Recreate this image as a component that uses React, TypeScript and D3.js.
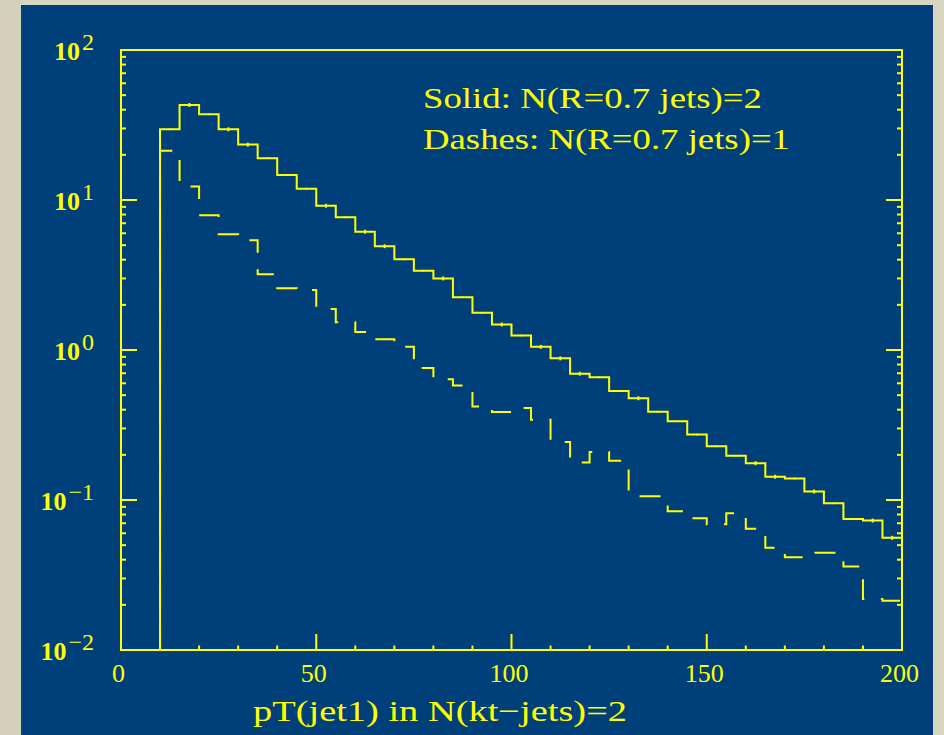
import React from 'react';
import * as d3 from 'd3';

// ---- data ----
const binStarts = [10, 15, 20, 25, 30, 35, 40, 45, 50, 55, 60, 65, 70, 75, 80, 85, 90, 95, 100, 105,
  110, 115, 120, 125, 130, 135, 140, 145, 150, 155, 160, 165, 170, 175, 180, 185, 190, 195];
const binWidth = 5;

// Solid: N(R=0.7 jets)=2
const solidValues = [29.6, 43, 37.3, 29.6, 23.4, 19.0, 14.7, 11.9, 9.16, 7.66,
  6.15, 4.92, 4.02, 3.38, 3.0, 2.25, 1.77, 1.48, 1.25, 1.05,
  0.88, 0.695, 0.658, 0.533, 0.477, 0.388, 0.335, 0.273, 0.228, 0.197,
  0.176, 0.143, 0.139, 0.114, 0.095, 0.0747, 0.073, 0.056];

// relative statistical errors of the solid histogram (tiny bars)
const solidErrors = [0.012, 0.03, 0.012, 0.03, 0.03, 0.012, 0.012, 0.012, 0.03, 0.012,
  0.03, 0.03, 0.012, 0.012, 0.03, 0.012, 0.012, 0.03, 0.012, 0.03,
  0.03, 0.03, 0.012, 0.012, 0.03, 0.012, 0.012, 0.012, 0.012, 0.012,
  0.03, 0.03, 0.012, 0.03, 0.012, 0.012, 0.03, 0.03];

// Dashes: N(R=0.7 jets)=1
const dashedValues = [21.3, 12.3, 7.9, 5.9, 5.4, 3.2, 2.58, 2.51, 1.88, 1.53,
  1.32, 1.18, 1.05, 0.76, 0.638, 0.58, 0.42, 0.386, 0.41, 0.343,
  0.244, 0.178, 0.209, 0.183, 0.106, 0.106, 0.084, 0.0755, 0.0689, 0.0815,
  0.0644, 0.048, 0.0415, 0.0445, 0.0445, 0.036, 0.0219, 0.0213];

const yDomain = [0.01, 100];
const yTickExps = ['2', '1', '0', '−1', '−2'];
const yTickValues = [100, 10, 1, 0.1, 0.01];
const xDomain = [0, 200];
const xMajorTicks = [0, 50, 100, 150, 200];
const xMinorTicks = [10, 20, 30, 40, 60, 70, 80, 90, 110, 120, 130, 140, 160, 170, 180, 190];
const legendLines = ['Solid: N(R=0.7 jets)=2', 'Dashes: N(R=0.7 jets)=1'];
const xTitle = 'pT(jet1) in N(kt−jets)=2';

const W = 944;
const H = 735;
const BLUE = '#00407a';
const YEL = '#ffff00';
const BEIGE = '#d8d5c1';
const FONT = "'Liberation Serif', 'Times New Roman', serif";

export default function App() {
  const left = 121, right = 902, top = 50, bottom = 650;
  const x = d3.scaleLinear().domain(xDomain).range([left, right]);
  const y = d3.scaleLog().domain(yDomain).range([bottom, top]);

  const makePts = (vals: number[]) => {
    const pts: [number, number][] = [[binStarts[0], yDomain[0]]];
    binStarts.forEach((b, i) => pts.push([b, vals[i]]));
    pts.push([binStarts[binStarts.length - 1] + binWidth, vals[vals.length - 1]]);
    return pts;
  };
  const line = d3.line<[number, number]>()
    .x(d => x(d[0]))
    .y(d => y(d[1]))
    .curve(d3.curveStepAfter);

  const solidPath = line(makePts(solidValues)) || '';
  const dashedPath = line(makePts(dashedValues)) || '';

  const allYTicks = y.ticks();
  const isMajor = (v: number) => Math.abs(Math.log10(v) - Math.round(Math.log10(v))) < 1e-6;
  const minorY = allYTicks.filter(v => !isMajor(v));

  return (
    <svg width={W} height={H} style={{ position: 'absolute', left: 0, top: 0 }}
      xmlns="http://www.w3.org/2000/svg">
      <rect x={0} y={0} width={W} height={H} fill={BEIGE} />
      <rect x={0} y={0} width={21} height={H} fill="#d3d0bb" />
      <rect x={21} y={5} width={912} height={H - 5} fill={BLUE} />

      {/* frame */}
      <rect x={left} y={top} width={right - left} height={bottom - top}
        fill="none" stroke={YEL} strokeWidth={2} />

      {/* y ticks, left and right */}
      {yTickValues.map(v => (
        <g key={'yM' + v}>
          <line x1={left} x2={left + 16} y1={y(v)} y2={y(v)} stroke={YEL} strokeWidth={2} />
          <line x1={right - 16} x2={right} y1={y(v)} y2={y(v)} stroke={YEL} strokeWidth={2} />
        </g>
      ))}
      {minorY.map(v => (
        <g key={'ym' + v}>
          <line x1={left} x2={left + 5} y1={y(v)} y2={y(v)} stroke={YEL} strokeWidth={2} />
          <line x1={right - 5} x2={right} y1={y(v)} y2={y(v)} stroke={YEL} strokeWidth={2} />
        </g>
      ))}

      {/* x ticks */}
      {xMajorTicks.map(v => (
        <line key={'xM' + v} x1={x(v)} x2={x(v)} y1={bottom} y2={bottom - 16} stroke={YEL} strokeWidth={2} />
      ))}
      {xMinorTicks.map(v => (
        <line key={'xm' + v} x1={x(v)} x2={x(v)} y1={bottom} y2={bottom - 4.5} stroke={YEL} strokeWidth={2} />
      ))}

      {/* y tick labels */}
      {yTickValues.map((v, i) => (
        <text key={'yl' + v} x={94} y={y(v) + 10} textAnchor="end" fill={YEL}
          fontFamily={FONT} fontSize={26} fontWeight="bold">
          10<tspan dx={2} dy={-10} fontSize={24} fontWeight="normal">{yTickExps[i]}</tspan>
        </text>
      ))}

      {/* x tick labels */}
      {xMajorTicks.map(v => (
        <text key={'xl' + v} x={x(v) - 2.5} y={682} textAnchor="middle" fill={YEL}
          fontFamily={FONT} fontSize={26}>{String(v)}</text>
      ))}

      {/* histograms */}
      <path d={solidPath} fill="none" stroke={YEL} strokeWidth={2} />
      {binStarts.map((b, i) => (
        <line key={'e' + b} x1={x(b + binWidth / 2)} x2={x(b + binWidth / 2)}
          y1={y(solidValues[i] * (1 + solidErrors[i]))} y2={y(solidValues[i] * (1 - solidErrors[i]))}
          stroke={YEL} strokeWidth={2} />
      ))}
      <path d={dashedPath} fill="none" stroke={YEL} strokeWidth={2}
        strokeDasharray="21 16.5" strokeDashoffset={-3} />

      {/* legend text */}
      <text x={423} y={108} fill={YEL} fontFamily={FONT} fontSize={29}
        textLength={339} lengthAdjust="spacingAndGlyphs">{legendLines[0]}</text>
      <text x={423} y={149} fill={YEL} fontFamily={FONT} fontSize={29}
        textLength={367} lengthAdjust="spacingAndGlyphs">{legendLines[1]}</text>

      {/* x title */}
      <text x={253} y={721} fill={YEL} fontFamily={FONT} fontSize={30}
        textLength={374} lengthAdjust="spacingAndGlyphs">{xTitle}</text>
    </svg>
  );
}
